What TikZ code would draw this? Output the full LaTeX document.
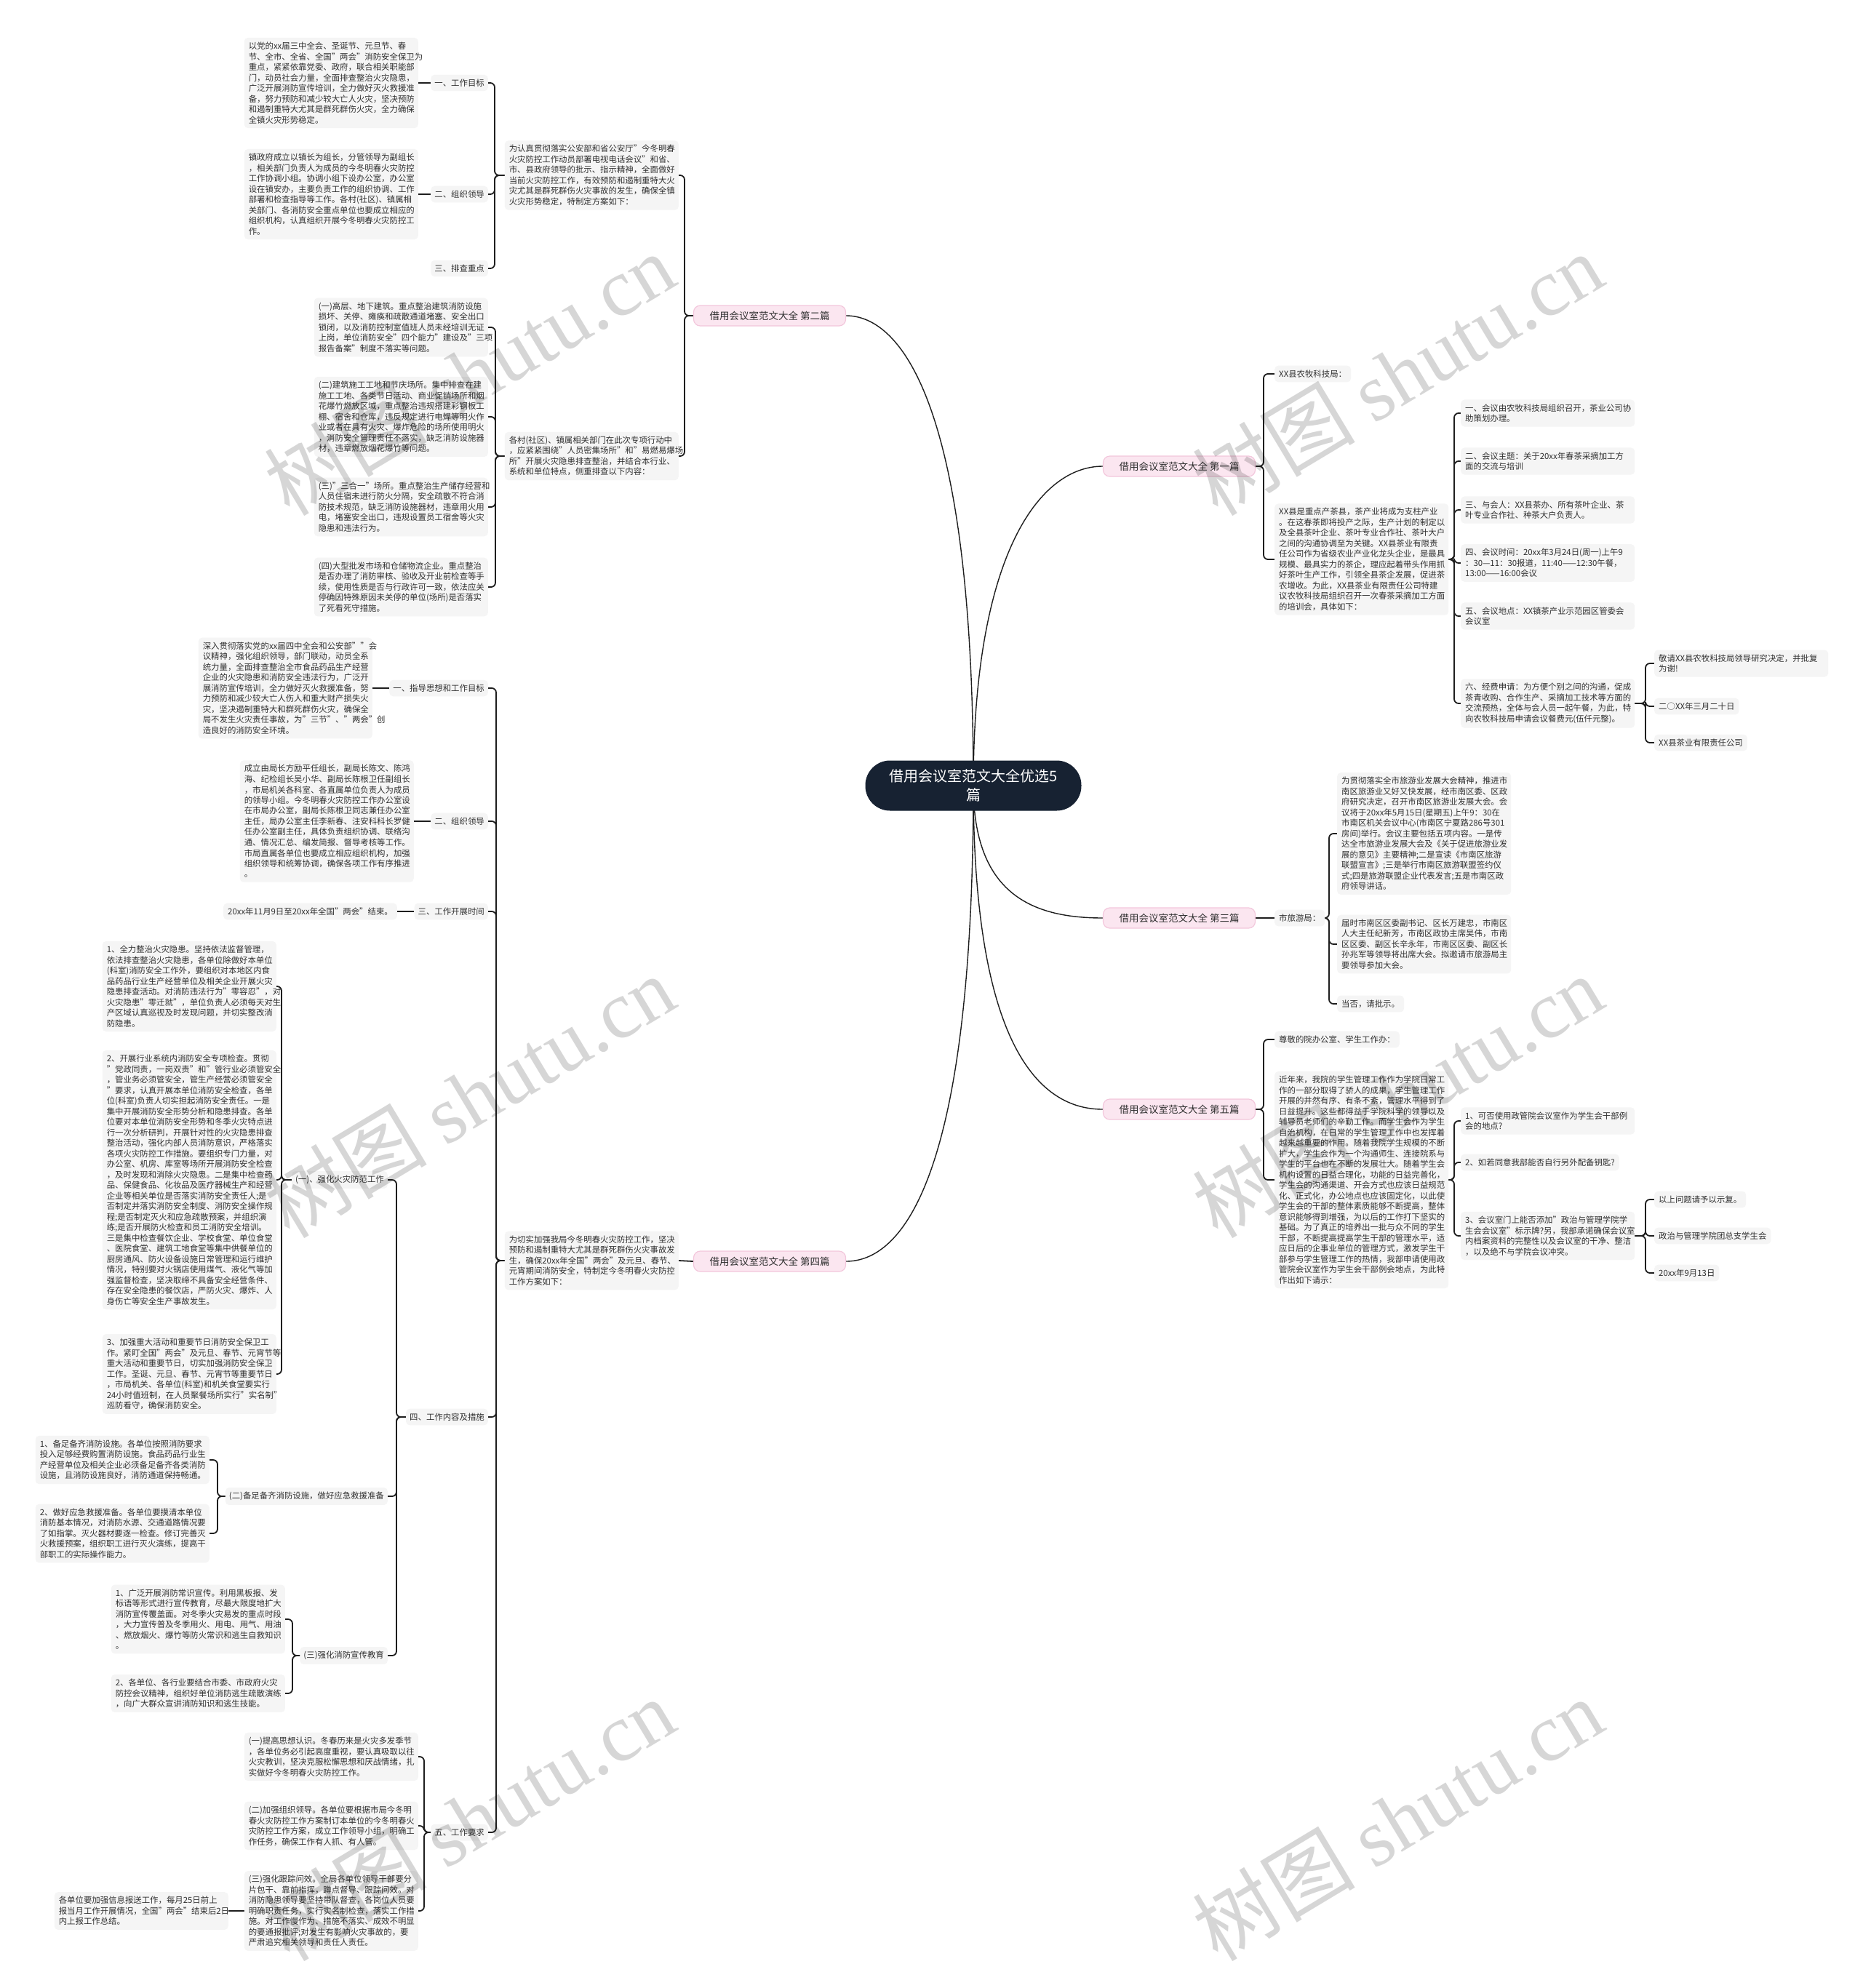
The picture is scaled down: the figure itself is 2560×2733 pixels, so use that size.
\documentclass[tikz,border=0pt]{standalone}
\usepackage{fontspec}
\setmainfont{Noto Sans CJK SC}
\newfontfamily\wmserif{Liberation Serif}
\usetikzlibrary{backgrounds}
\definecolor{boxbg}{HTML}{F5F5F5}
\definecolor{txt}{HTML}{303030}
\definecolor{lc}{HTML}{1E1E1E}
\definecolor{pinkbg}{HTML}{FBE6F0}
\definecolor{pinkbd}{HTML}{F3C7DC}
\definecolor{rootc}{HTML}{172232}
\newcommand\fsz{\fontsize{11.4pt}{14.5pt}\selectfont}
\begin{document}
\begin{tikzpicture}[x=1pt,y=-1pt,
  every node/.style={font=\fsz, text=txt},
  tb/.style={fill=boxbg, rounded corners=5pt, inner xsep=6pt, inner ysep=6pt, align=left, text width=227pt},
  sb/.style={fill=boxbg, rounded corners=5pt, inner xsep=6pt, inner ysep=6pt},
  lb/.style={fill=boxbg, rounded corners=5pt, inner xsep=5pt, inner ysep=6pt},
  br/.style={fill=pinkbg, draw=pinkbd, line width=1.2pt, rounded corners=9pt, minimum width=209pt, minimum height=28pt, inner xsep=14pt, font=\fontsize{13.5pt}{16pt}\selectfont},
  rootn/.style={fill=rootc, text=white, rounded corners=34pt, minimum width=297pt, minimum height=69pt, align=center, font=\fontsize{20pt}{26pt}\selectfont},
  conn/.style={draw=lc, line width=1.8pt, rounded corners=6pt},
  curve/.style={draw=lc, line width=1.4pt},
  wm/.style={text=black, opacity=0.16, font=\fontsize{112pt}{112pt}\selectfont, rotate=31}
]
\useasboundingbox (0,0) rectangle (2560,2733);

% ---------- root and branches ----------
\node[rootn] (root) at (1338,1080) {借用会议室范文大全优选5\\篇};
\node[br] (b2) at (1058,434) {借用会议室范文大全 第二篇};
\node[br] (b4) at (1058,1734) {借用会议室范文大全 第四篇};
\node[br] (b1) at (1621,641) {借用会议室范文大全 第一篇};
\node[br] (b3) at (1621,1262) {借用会议室范文大全 第三篇};
\node[br] (b5) at (1621,1525) {借用会议室范文大全 第五篇};

% ---------- 第二篇 ----------
\node[tb, anchor=east] (B1) at (933,241) {为认真贯彻落实公安部和省公安厅"今冬明春\\火灾防控工作动员部署电视电话会议"和省、\\市、县政府领导的批示、指示精神，全面做好\\当前火灾防控工作，有效预防和遏制重特大火\\灾尤其是群死群伤火灾事故的发生，确保全镇\\火灾形势稳定，特制定方案如下：};
\node[tb, anchor=east] (B2) at (933,627) {各村(社区)、镇属相关部门在此次专项行动中\\，应紧紧围绕"人员密集场所"和"易燃易爆场\\所"开展火灾隐患排查整治，并结合本行业、\\系统和单位特点，侧重排查以下内容：};
\node[lb, anchor=east] (A1l) at (671,114) {一、工作目标};
\node[lb, anchor=east] (A2l) at (671,267) {二、组织领导};
\node[lb, anchor=east] (A3l) at (671,369) {三、排查重点};
\node[tb, anchor=east] (A1) at (575,114) {以党的xx届三中全会、圣诞节、元旦节、春\\节、全市、全省、全国"两会"消防安全保卫为\\重点，紧紧依靠党委、政府，联合相关职能部\\门，动员社会力量，全面排查整治火灾隐患，\\广泛开展消防宣传培训，全力做好灭火救援准\\备，努力预防和减少较大亡人火灾，坚决预防\\和遏制重特大尤其是群死群伤火灾，全力确保\\全镇火灾形势稳定。};
\node[tb, anchor=east] (A2) at (575,267) {镇政府成立以镇长为组长，分管领导为副组长\\，相关部门负责人为成员的今冬明春火灾防控\\工作协调小组。协调小组下设办公室，办公室\\设在镇安办，主要负责工作的组织协调、工作\\部署和检查指导等工作。各村(社区)、镇属相\\关部门、各消防安全重点单位也要成立相应的\\组织机构，认真组织开展今冬明春火灾防控工\\作。};
\node[tb, anchor=east] (Bi1) at (671,450) {(一)高层、地下建筑。重点整治建筑消防设施\\损坏、关停、瘫痪和疏散通道堵塞、安全出口\\锁闭，以及消防控制室值班人员未经培训无证\\上岗，单位消防安全"四个能力"建设及"三项\\报告备案"制度不落实等问题。};
\node[tb, anchor=east] (Bi2) at (671,573) {(二)建筑施工工地和节庆场所。集中排查在建\\施工工地、各类节日活动、商业促销场所和烟\\花爆竹燃放区域，重点整治违规搭建彩钢板工\\棚、宿舍和仓库，违反规定进行电焊等明火作\\业或者在具有火灾、爆炸危险的场所使用明火\\，消防安全管理责任不落实，缺乏消防设施器\\材，违章燃放烟花爆竹等问题。};
\node[tb, anchor=east] (Bi3) at (671,697) {(三)"三合一"场所。重点整治生产储存经营和\\人员住宿未进行防火分隔，安全疏散不符合消\\防技术规范，缺乏消防设施器材，违章用火用\\电，堵塞安全出口，违规设置员工宿舍等火灾\\隐患和违法行为。};
\node[tb, anchor=east] (Bi4) at (671,807) {(四)大型批发市场和仓储物流企业。重点整治\\是否办理了消防审核、验收及开业前检查等手\\续，使用性质是否与行政许可一致，依法应关\\停确因特殊原因未关停的单位(场所)是否落实\\了死看死守措施。};

% ---------- 第四篇 ----------
\node[tb, anchor=east] (K) at (933,1733) {为切实加强我局今冬明春火灾防控工作，坚决\\预防和遏制重特大尤其是群死群伤火灾事故发\\生，确保20xx年全国"两会"及元旦、春节、\\元宵期间消防安全，特制定今冬明春火灾防控\\工作方案如下：};
\node[lb, anchor=east] (L1) at (671,946) {一、指导思想和工作目标};
\node[lb, anchor=east] (L2) at (671,1129) {二、组织领导};
\node[lb, anchor=east] (L3) at (671,1253) {三、工作开展时间};
\node[lb, anchor=east] (L4) at (671,1948) {四、工作内容及措施};
\node[lb, anchor=east] (L5) at (671,2519) {五、工作要求};
\node[tb, anchor=east] (M1) at (512,946) {深入贯彻落实党的xx届四中全会和公安部""会\\议精神，强化组织领导，部门联动，动员全系\\统力量，全面排查整治全市食品药品生产经营\\企业的火灾隐患和消防安全违法行为，广泛开\\展消防宣传培训，全力做好灭火救援准备，努\\力预防和减少较大亡人伤人和重大财产损失火\\灾，坚决遏制重特大和群死群伤火灾，确保全\\局不发生火灾责任事故，为"三节"、"两会"创\\造良好的消防安全环境。};
\node[tb, anchor=east] (M2) at (569,1129) {成立由局长方励平任组长，副局长陈文、陈鸿\\海、纪检组长吴小华、副局长陈根卫任副组长\\，市局机关各科室、各直属单位负责人为成员\\的领导小组。今冬明春火灾防控工作办公室设\\在市局办公室，副局长陈根卫同志兼任办公室\\主任，局办公室主任李新春、注安科科长罗健\\任办公室副主任，具体负责组织协调、联络沟\\通、情况汇总、编发简报、督导考核等工作。\\市局直属各单位也要成立相应组织机构，加强\\组织领导和统筹协调，确保各项工作有序推进\\。};
\node[sb, anchor=east] (M3) at (546,1253) {20xx年11月9日至20xx年全国"两会"结束。};
\node[lb, anchor=east] (N1) at (533,1622) {(一)、强化火灾防范工作};
\node[lb, anchor=east] (N2) at (533,2057) {(二)备足备齐消防设施，做好应急救援准备};
\node[lb, anchor=east] (N3) at (533,2276) {(三)强化消防宣传教育};
\node[tb, anchor=east] (O1) at (380,1356) {1、全力整治火灾隐患。坚持依法监督管理，\\依法排查整治火灾隐患，各单位除做好本单位\\(科室)消防安全工作外，要组织对本地区内食\\品药品行业生产经营单位及相关企业开展火灾\\隐患排查活动。对消防违法行为"零容忍"，对\\火灾隐患"零迁就"，单位负责人必须每天对生\\产区域认真巡视及时发现问题，并切实整改消\\防隐患。};
\node[tb, anchor=east] (O2) at (380,1622) {2、开展行业系统内消防安全专项检查。贯彻\\"党政同责，一岗双责"和"管行业必须管安全\\，管业务必须管安全，管生产经营必须管安全\\"要求，认真开展本单位消防安全检查，各单\\位(科室)负责人切实担起消防安全责任。一是\\集中开展消防安全形势分析和隐患排查。各单\\位要对本单位消防安全形势和冬季火灾特点进\\行一次分析研判，开展针对性的火灾隐患排查\\整治活动，强化内部人员消防意识，严格落实\\各项火灾防控工作措施。要组织专门力量，对\\办公室、机房、库室等场所开展消防安全检查\\，及时发现和消除火灾隐患。二是集中检查药\\品、保健食品、化妆品及医疗器械生产和经营\\企业等相关单位是否落实消防安全责任人;是\\否制定并落实消防安全制度、消防安全操作规\\程;是否制定灭火和应急疏散预案，并组织演\\练;是否开展防火检查和员工消防安全培训。\\三是集中检查餐饮企业、学校食堂、单位食堂\\、医院食堂、建筑工地食堂等集中供餐单位的\\厨房通风、防火设备设施日常管理和运行维护\\情况，特别要对火锅店使用煤气、液化气等加\\强监督检查，坚决取缔不具备安全经营条件、\\存在安全隐患的餐饮店，严防火灾、爆炸、人\\身伤亡等安全生产事故发生。};
\node[tb, anchor=east] (O3) at (380,1889) {3、加强重大活动和重要节日消防安全保卫工\\作。紧盯全国"两会"及元旦、春节、元宵节等\\重大活动和重要节日，切实加强消防安全保卫\\工作。圣诞、元旦、春节、元宵节等重要节日\\，市局机关、各单位(科室)和机关食堂要实行\\24小时值班制，在人员聚餐场所实行"实名制"\\巡防看守，确保消防安全。};
\node[tb, anchor=east] (P1) at (288,2007) {1、备足备齐消防设施。各单位按照消防要求\\投入足够经费购置消防设施。食品药品行业生\\产经营单位及相关企业必须备足备齐各类消防\\设施，且消防设施良好，消防通道保持畅通。};
\node[tb, anchor=east] (P2) at (288,2108) {2、做好应急救援准备。各单位要摸清本单位\\消防基本情况，对消防水源、交通道路情况要\\了如指掌。灭火器材要逐一检查。修订完善灭\\火救援预案，组织职工进行灭火演练，提高干\\部职工的实际操作能力。};
\node[tb, anchor=east] (Q1) at (392,2226) {1、广泛开展消防常识宣传。利用黑板报、发\\标语等形式进行宣传教育，尽最大限度地扩大\\消防宣传覆盖面。对冬季火灾易发的重点时段\\，大力宣传普及冬季用火、用电、用气、用油\\、燃放烟火、爆竹等防火常识和逃生自救知识\\。};
\node[tb, anchor=east] (Q2) at (392,2328) {2、各单位、各行业要结合市委、市政府火灾\\防控会议精神，组织好单位消防逃生疏散演练\\，向广大群众宣讲消防知识和逃生技能。};
\node[tb, anchor=east] (R1) at (575,2415) {(一)提高思想认识。冬春历来是火灾多发季节\\，各单位务必引起高度重视，要认真吸取以往\\火灾教训，坚决克服松懈思想和厌战情绪，扎\\实做好今冬明春火灾防控工作。};
\node[tb, anchor=east] (R2) at (575,2510) {(二)加强组织领导。各单位要根据市局今冬明\\春火灾防控工作方案制订本单位的今冬明春火\\灾防控工作方案，成立工作领导小组，明确工\\作任务，确保工作有人抓、有人管。};
\node[tb, anchor=east] (R3) at (575,2627) {(三)强化跟踪问效。全局各单位领导干部要分\\片包干、靠前指挥，蹲点督导、跟踪问效。对\\消防隐患领导要坚持带队督查，各岗位人员要\\明确职责任务，实行实名制检查，落实工作措\\施。对工作慢作为、措施不落实、成效不明显\\的要通报批评;对发生有影响火灾事故的，要\\严肃追究相关领导和责任人责任。};
\node[tb, anchor=east] (S) at (314,2627) {各单位要加强信息报送工作，每月25日前上\\报当月工作开展情况，全国"两会"结束后2日\\内上报工作总结。};

% ---------- 第一篇 ----------
\node[sb, anchor=west] (C1) at (1752,514) {XX县农牧科技局：};
\node[tb, anchor=west] (C2) at (1752,769) {XX县是重点产茶县，茶产业将成为支柱产业\\。在这春茶即将投产之际，生产计划的制定以\\及全县茶叶企业、茶叶专业合作社、茶叶大户\\之间的沟通协调至为关键。XX县茶业有限责\\任公司作为省级农业产业化龙头企业，是最具\\规模、最具实力的茶企，理应起着带头作用抓\\好茶叶生产工作，引领全县茶企发展，促进茶\\农增收。为此，XX县茶业有限责任公司特建\\议农牧科技局组织召开一次春茶采摘加工方面\\的培训会，具体如下：};
\node[tb, anchor=west] (D1) at (2008,568) {一、会议由农牧科技局组织召开，茶业公司协\\助策划办理。};
\node[tb, anchor=west] (D2) at (2008,634) {二、会议主题：关于20xx年春茶采摘加工方\\面的交流与培训};
\node[tb, anchor=west] (D3) at (2008,701) {三、与会人：XX县茶办、所有茶叶企业、茶\\叶专业合作社、种茶大户负责人。};
\node[tb, anchor=west] (D4) at (2008,774) {四、会议时间：20xx年3月24日(周一)上午9\\：30—11：30报道，11:40——12:30午餐，\\13:00——16:00会议};
\node[tb, anchor=west] (D5) at (2008,847) {五、会议地点：XX镇茶产业示范园区管委会\\会议室};
\node[tb, anchor=west] (D6) at (2008,967) {六、经费申请：为方便个别之间的沟通，促成\\茶青收购、合作生产、采摘加工技术等方面的\\交流预热，全体与会人员一起午餐，为此，特\\向农牧科技局申请会议餐费元(伍仟元整)。};
\node[tb, anchor=west] (E1) at (2274,912) {敬请XX县农牧科技局领导研究决定，并批复\\为谢!};
\node[sb, anchor=west] (E2) at (2274,971) {二○XX年三月二十日};
\node[sb, anchor=west] (E3) at (2274,1021) {XX县茶业有限责任公司};

% ---------- 第三篇 ----------
\node[sb, anchor=west] (F1) at (1752,1262) {市旅游局：};
\node[tb, anchor=west] (G1) at (1838,1146) {为贯彻落实全市旅游业发展大会精神，推进市\\南区旅游业又好又快发展，经市南区委、区政\\府研究决定，召开市南区旅游业发展大会。会\\议将于20xx年5月15日(星期五)上午9：30在\\市南区机关会议中心(市南区宁夏路286号301\\房间)举行。会议主要包括五项内容。一是传\\达全市旅游业发展大会及《关于促进旅游业发\\展的意见》主要精神;二是宣读《市南区旅游\\联盟宣言》;三是举行市南区旅游联盟签约仪\\式;四是旅游联盟企业代表发言;五是市南区政\\府领导讲话。};
\node[tb, anchor=west] (G2) at (1838,1298) {届时市南区区委副书记、区长万建忠，市南区\\人大主任纪新芳，市南区政协主席吴伟，市南\\区区委、副区长辛永年，市南区区委、副区长\\孙兆军等领导将出席大会。拟邀请市旅游局主\\要领导参加大会。};
\node[sb, anchor=west] (G3) at (1838,1380) {当否，请批示。};

% ---------- 第五篇 ----------
\node[sb, anchor=west] (H1) at (1752,1429) {尊敬的院办公室、学生工作办：};
\node[tb, anchor=west] (H2) at (1752,1622) {近年来，我院的学生管理工作作为学院日常工\\作的一部分取得了骄人的成果，学生管理工作\\开展的井然有序、有条不紊，管理水平得到了\\日益提升。这些都得益于学院科学的领导以及\\辅导员老师们的辛勤工作。而学生会作为学生\\自治机构，在日常的学生管理工作中也发挥着\\越来越重要的作用。随着我院学生规模的不断\\扩大，学生会作为一个沟通师生、连接院系与\\学生的平台也在不断的发展壮大。随着学生会\\机构设置的日益合理化，功能的日益完善化，\\学生会的沟通渠道、开会方式也应该日益规范\\化、正式化，办公地点也应该固定化，以此使\\学生会的干部的整体素质能够不断提高，整体\\意识能够得到增强，为以后的工作打下坚实的\\基础。为了真正的培养出一批与众不同的学生\\干部，不断提高提高学生干部的管理水平，适\\应日后的企事业单位的管理方式，激发学生干\\部参与学生管理工作的热情，我部申请使用政\\管院会议室作为学生会干部例会地点，为此特\\作出如下请示：};
\node[tb, anchor=west] (I1) at (2008,1541) {1、可否使用政管院会议室作为学生会干部例\\会的地点?};
\node[sb, anchor=west] (I2) at (2008,1598) {2、如若同意我部能否自行另外配备钥匙?};
\node[tb, anchor=west] (I3) at (2008,1699) {3、会议室门上能否添加"政治与管理学院学\\生会会议室"标示牌?另，我部承诺确保会议室\\内档案资料的完整性以及会议室的干净、整洁\\，以及绝不与学院会议冲突。};
\node[sb, anchor=west] (J1) at (2274,1649) {以上问题请予以示复。};
\node[sb, anchor=west] (J2) at (2274,1699) {政治与管理学院团总支学生会};
\node[sb, anchor=west] (J3) at (2274,1750) {20xx年9月13日};

% ---------- bracket x positions ----------
\coordinate (x2) at (941,0);
\coordinate (xB1) at (680,0);
\coordinate (xB2) at (681,0);
\coordinate (xK) at (682,0);
\coordinate (xL4) at (545,0);
\coordinate (xN1) at (387,0);
\coordinate (xN2) at (299,0);
\coordinate (xN3) at (402,0);
\coordinate (xL5) at (583,0);
\coordinate (xR) at (1737,0);
\coordinate (xC2) at (1999,0);
\coordinate (xD6) at (2262,0);
\coordinate (xF1) at (1827,0);
\coordinate (xH2) at (1999,0);
\coordinate (xI3) at (2262,0);

\begin{scope}[on background layer]
\fill[white] (0,0) rectangle (2560,2733);
% root curves
\draw[curve] (root.center) .. controls (1338,560) and (1240,434) .. (b2.east);
\draw[curve] (root.center) .. controls (1338,1620) and (1240,1734) .. (b4.east);
\draw[curve] (root.center) .. controls (1338,760) and (1430,641) .. (b1.west);
\draw[curve] (root.center) .. controls (1338,1230) and (1420,1262) .. (b3.west);
\draw[curve] (root.center) .. controls (1338,1420) and (1420,1525) .. (b5.west);
% 第二篇
\foreach \c in {B1,B2} \draw[conn] (b2.west) -- (b2.west -| x2) |- (\c.east);
\foreach \c in {A1l,A2l,A3l} \draw[conn] (B1.west) -- (B1.west -| xB1) |- (\c.east);
\draw[conn] (A1l.west) -- (A1.east);
\draw[conn] (A2l.west) -- (A2.east);
\foreach \c in {Bi1,Bi2,Bi3,Bi4} \draw[conn] (B2.west) -- (B2.west -| xB2) |- (\c.east);
% 第四篇
\draw[conn] (b4.west) -- (K.east);
\foreach \c in {L1,L2,L3,L4,L5} \draw[conn] (K.west) -- (K.west -| xK) |- (\c.east);
\draw[conn] (L1.west) -- (M1.east);
\draw[conn] (L2.west) -- (M2.east);
\draw[conn] (L3.west) -- (M3.east);
\foreach \c in {N1,N2,N3} \draw[conn] (L4.west) -- (L4.west -| xL4) |- (\c.east);
\foreach \c in {O1,O2,O3} \draw[conn] (N1.west) -- (N1.west -| xN1) |- (\c.east);
\foreach \c in {P1,P2} \draw[conn] (N2.west) -- (N2.west -| xN2) |- (\c.east);
\foreach \c in {Q1,Q2} \draw[conn] (N3.west) -- (N3.west -| xN3) |- (\c.east);
\foreach \c in {R1,R2,R3} \draw[conn] (L5.west) -- (L5.west -| xL5) |- (\c.east);
\draw[conn] (R3.west) -- (S.east);
% 第一篇
\foreach \c in {C1,C2} \draw[conn] (b1.east) -- (b1.east -| xR) |- (\c.west);
\foreach \c in {D1,D2,D3,D4,D5,D6} \draw[conn] (C2.east) -- (C2.east -| xC2) |- (\c.west);
\foreach \c in {E1,E2,E3} \draw[conn] (D6.east) -- (D6.east -| xD6) |- (\c.west);
% 第三篇
\draw[conn] (b3.east) -- (F1.west);
\foreach \c in {G1,G2,G3} \draw[conn] (F1.east) -- (F1.east -| xF1) |- (\c.west);
% 第五篇
\foreach \c in {H1,H2} \draw[conn] (b5.east) -- (b5.east -| xR) |- (\c.west);
\foreach \c in {I1,I2,I3} \draw[conn] (H2.east) -- (H2.east -| xH2) |- (\c.west);
\foreach \c in {J1,J2,J3} \draw[conn] (I3.east) -- (I3.east -| xI3) |- (\c.west);
\end{scope}

% ---------- watermarks ----------
\foreach \p in {(645,514),(645,1507),(645,2501),(1921,514),(1921,1507),(1921,2501)}
  \node[wm] at \p {树图 {\wmserif shutu.cn}};
\end{tikzpicture}
\end{document}
